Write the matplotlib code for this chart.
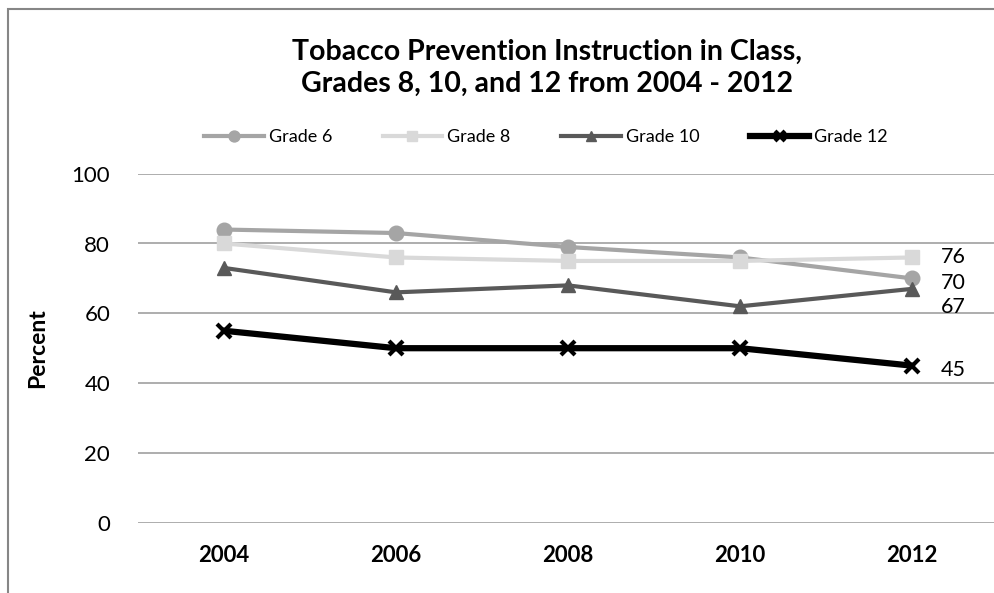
import numpy as np
import matplotlib.pyplot as plt
from matplotlib.patches import Rectangle

# Data
years = ['2004', '2006', '2008', '2010', '2012']
grade6 = [84, 83, 79, 76, 70]
grade8 = [80, 76, 75, 75, 76]
grade10 = [73, 66, 68, 62, 67]
grade12 = [55, 50, 50, 50, 45]
yticks = [0, 20, 40, 60, 80, 100]

plt.rcParams['font.family'] = ['Lato', 'DejaVu Sans']

fig = plt.figure(figsize=(9.95, 5.93), dpi=100)
ax = fig.add_axes([138 / 995, 1 - 522.7 / 593, 860 / 995, (522.7 - 173.7) / 593])

x = np.arange(len(years))
series = [
    ('Grade 6', grade6, '#A5A5A5', 'o', 3, 10.5),
    ('Grade 8', grade8, '#D9D9D9', 's', 3, 9.5),
    ('Grade 10', grade10, '#595959', '^', 3, 10.5),
    ('Grade 12', grade12, '#000000', 'x', 4.5, 10),
]
for name, vals, col, mk, lw, ms in series:
    ax.plot(x, vals, color=col, lw=lw, marker=mk, ms=ms, mew=3 if mk == 'x' else 1,
            label=name, clip_on=False, zorder=3)

# end labels on the 2012 points
offsets = {'Grade 6': -3, 'Grade 8': 0, 'Grade 10': -13, 'Grade 12': -3}
for name, vals, col, mk, lw, ms in series:
    ax.annotate(str(vals[-1]), (x[-1], vals[-1]), xytext=(21, offsets[name]),
                textcoords='offset points', va='center', ha='left', fontsize=15.5,
                color='black')

ax.set_xlim(-0.5, 4.5)
ax.set_ylim(0, 100)
ax.set_yticks(yticks)
ax.set_xticks(x)
ax.set_xticklabels(years, fontweight='bold', fontsize=16)
ax.tick_params(axis='y', labelsize=16, length=0, pad=20)
ax.tick_params(axis='x', length=0, pad=16)
ax.grid(axis='y', color='#A0A0A0', lw=1.2)
ax.set_axisbelow(True)
for s in ax.spines.values():
    s.set_visible(False)
ax.set_ylabel('Percent', fontweight='bold', fontsize=16.5)
ax.yaxis.set_label_coords((48 - 138) / 860, 0.5)

fig.text(547 / 995, 1 - 68 / 593,
         'Tobacco Prevention Instruction in Class,\nGrades 8, 10, and 12 from 2004 - 2012',
         ha='center', va='center', fontsize=20.5, fontweight='bold', linespacing=1.3)

fig.legend(loc='center', bbox_to_anchor=(546 / 995, 1 - 137 / 593), ncol=4,
           frameon=False, fontsize=13, handlelength=3.3, handletextpad=0.28,
           columnspacing=2.8, markerscale=0.75)

# outer chart frame
fig.patches.append(Rectangle((8 / 995, -0.1), 1.2, 1 - 9 / 593 + 0.1,
                             transform=fig.transFigure, fill=False,
                             edgecolor='#868686', lw=1.5))

fig.savefig('out.png', dpi=100)
